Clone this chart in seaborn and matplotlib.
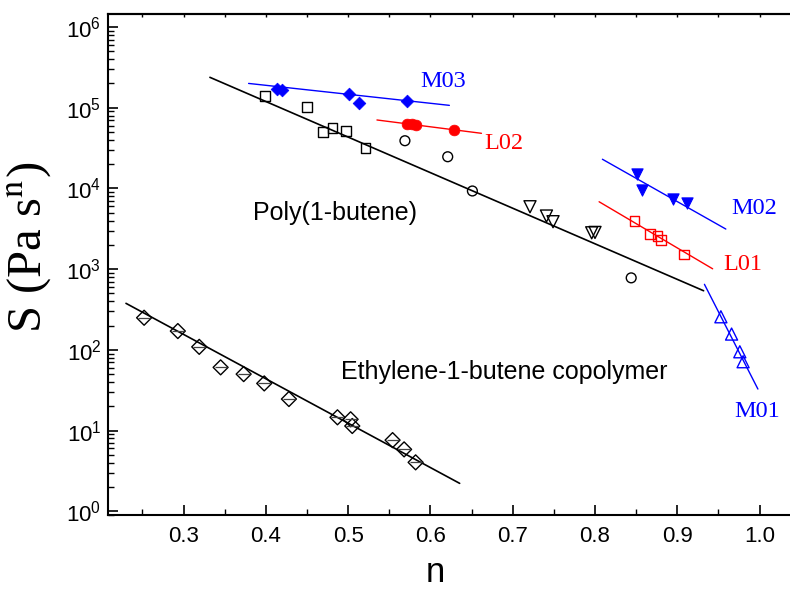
import numpy as np
import matplotlib
matplotlib.use('Agg')
import matplotlib.pyplot as plt
import seaborn as sns
from matplotlib.ticker import FixedLocator, MultipleLocator, LogLocator, NullFormatter, FixedFormatter

# ---------------- data ----------------
pb_sq_n = [0.399, 0.450, 0.469, 0.481, 0.497, 0.521]
pb_sq_S = [1.41e5, 1.02e5, 4.95e4, 5.65e4, 5.14e4, 3.17e4]
pb_ci_n = [0.569, 0.621, 0.651, 0.844]
pb_ci_S = [3.9e4, 2.47e4, 9.3e3, 7.8e2]
pb_tr_n = [0.721, 0.741, 0.749, 0.796, 0.800]
pb_tr_S = [5.93e3, 4.55e3, 3.87e3, 2.82e3, 2.85e3]
pb_fit_n = [0.332, 0.932]
pb_fit_S = [2.38e5, 5.4e2]

m03_n = [0.413, 0.419, 0.501, 0.513, 0.572]
m03_S = [1.71e5, 1.66e5, 1.47e5, 1.15e5, 1.22e5]
m03_fit_n = [0.379, 0.623]
m03_fit_S = [2.0e5, 1.07e5]

l02_n = [0.571, 0.577, 0.582, 0.629]
l02_S = [6.28e4, 6.3e4, 6.1e4, 5.33e4]
l02_fit_n = [0.535, 0.662]
l02_fit_S = [7.05e4, 4.82e4]

m02_n = [0.851, 0.857, 0.895, 0.912]
m02_S = [1.5e4, 9.55e3, 7.5e3, 6.65e3]
m02_fit_n = [0.809, 0.959]
m02_fit_S = [2.3e4, 3.14e3]

l01_n = [0.848, 0.867, 0.876, 0.880, 0.908]
l01_S = [3.91e3, 2.72e3, 2.57e3, 2.3e3, 1.52e3]
l01_fit_n = [0.805, 0.943]
l01_fit_S = [6.84e3, 1.01e3]

m01_n = [0.953, 0.966, 0.976, 0.980]
m01_S = [257, 157, 94.7, 71.3]
m01_fit_n = [0.933, 0.998]
m01_fit_S = [649, 32.7]

eb_n = [0.252, 0.293, 0.319, 0.345, 0.373, 0.398, 0.428, 0.487, 0.503, 0.505, 0.554, 0.568, 0.582]
eb_S = [250, 171, 109, 60.7, 50.1, 38.4, 24.6, 14.6, 13.8, 11.4, 7.62, 5.85, 4.04]
eb_fit_n = [0.230, 0.6355]
eb_fit_S = [377, 2.22]

x_ticks = [0.3, 0.4, 0.5, 0.6, 0.7, 0.8, 0.9, 1.0]
x_ticklabels = ['0.3', '0.4', '0.5', '0.6', '0.7', '0.8', '0.9', '1.0']

labels = ['M03', 'L02', 'M02', 'L01', 'M01']
label_n = [0.588, 0.666, 0.966, 0.956, 0.969]
label_S = [2.12e5, 3.62e4, 5.6e3, 1.135e3, 17.3]
label_colors = ['#0000ff', '#ff0000', '#0000ff', '#ff0000', '#0000ff']

# ---------------- plot ----------------
sns.set_style('ticks')
plt.rcParams['font.family'] = ['Liberation Sans', 'DejaVu Sans']
plt.rcParams['text.color'] = 'black'
plt.rcParams['axes.labelcolor'] = 'black'
plt.rcParams['xtick.color'] = 'black'
plt.rcParams['ytick.color'] = 'black'
plt.rcParams['axes.edgecolor'] = 'black'

fig = plt.figure(figsize=(7.9, 5.9), dpi=100)
ax = fig.add_axes([0.1371, 0.1266, 0.9282, 0.8497])
ax.set_yscale('log')

BLUE = '#0000ff'
RED = '#ff0000'

# fit lines
sns.lineplot(x=pb_fit_n, y=pb_fit_S, ax=ax, color='k', linewidth=1.2, sort=False, estimator=None)
sns.lineplot(x=eb_fit_n, y=eb_fit_S, ax=ax, color='k', linewidth=1.2, sort=False, estimator=None)
sns.lineplot(x=m03_fit_n, y=m03_fit_S, ax=ax, color=BLUE, linewidth=1.0, sort=False, estimator=None)
sns.lineplot(x=l02_fit_n, y=l02_fit_S, ax=ax, color=RED, linewidth=1.0, sort=False, estimator=None)
sns.lineplot(x=m02_fit_n, y=m02_fit_S, ax=ax, color=BLUE, linewidth=1.0, sort=False, estimator=None)
sns.lineplot(x=l01_fit_n, y=l01_fit_S, ax=ax, color=RED, linewidth=1.0, sort=False, estimator=None)
sns.lineplot(x=m01_fit_n, y=m01_fit_S, ax=ax, color=BLUE, linewidth=1.0, sort=False, estimator=None)

# poly(1-butene) points
sns.scatterplot(x=pb_sq_n, y=pb_sq_S, ax=ax, marker='s', s=50, facecolor='none', edgecolor='k', linewidth=1.0, zorder=3)
sns.scatterplot(x=pb_ci_n, y=pb_ci_S, ax=ax, marker='o', s=50, facecolor='none', edgecolor='k', linewidth=1.0, zorder=3)
sns.scatterplot(x=pb_tr_n, y=pb_tr_S, ax=ax, marker='v', s=75, facecolor='none', edgecolor='k', linewidth=1.0, zorder=3)

# samples
sns.scatterplot(x=m03_n, y=m03_S, ax=ax, marker='D', s=42, color=BLUE, edgecolor=BLUE, linewidth=0.5, zorder=3)
sns.scatterplot(x=l02_n, y=l02_S, ax=ax, marker='o', s=60, color=RED, edgecolor=RED, linewidth=0.5, zorder=3)
sns.scatterplot(x=m02_n, y=m02_S, ax=ax, marker='v', s=65, color=BLUE, edgecolor=BLUE, linewidth=0.8, zorder=3)
sns.scatterplot(x=l01_n, y=l01_S, ax=ax, marker='s', s=50, facecolor='none', edgecolor=RED, linewidth=1.0, zorder=3)
sns.scatterplot(x=m01_n, y=m01_S, ax=ax, marker='^', s=75, facecolor='none', edgecolor=BLUE, linewidth=1.0, zorder=3)

# ethylene-1-butene copolymer
sns.scatterplot(x=eb_n, y=eb_S, ax=ax, marker='D', s=58, facecolor='none', edgecolor='k', linewidth=1.0, zorder=3)
sns.scatterplot(x=eb_n, y=eb_S, ax=ax, marker='_', s=75, color='#444444', linewidth=0.9, zorder=3)

# axes
ax.set_xlim(0.2085, 1.0997)
ax.set_ylim(0.892, 1.45e6)
ax.xaxis.set_major_locator(FixedLocator(x_ticks))
ax.xaxis.set_major_formatter(FixedFormatter(x_ticklabels))
ax.xaxis.set_minor_locator(MultipleLocator(0.05))
ax.yaxis.set_major_locator(LogLocator(base=10, numticks=20))
ax.yaxis.set_minor_locator(LogLocator(base=10, subs=np.arange(2, 10), numticks=20))
ax.yaxis.set_minor_formatter(NullFormatter())

for side in ['left', 'bottom', 'top']:
    ax.spines[side].set_linewidth(1.5)
    ax.spines[side].set_color('k')
ax.spines['right'].set_visible(False)

ax.tick_params(axis='both', which='major', direction='in', length=7.5, width=1.2, color='k', labelcolor='k')
ax.tick_params(axis='both', which='minor', direction='in', length=4, width=1.0, color='k')
ax.tick_params(axis='x', which='major', labelsize=16, pad=8)
ax.tick_params(axis='y', which='major', labelsize=16, pad=5)

top = ax.secondary_xaxis('top')
top.xaxis.set_major_locator(FixedLocator(x_ticks))
top.xaxis.set_minor_locator(MultipleLocator(0.05))
top.tick_params(which='both', direction='in', length=2, width=1.0, labeltop=False, color='k')
top.spines['top'].set_linewidth(1.5)
top.spines['top'].set_color('k')

# texts
ax.text(0.384, 4.96e3, 'Poly(1-butene)', fontsize=18, ha='left', va='center', color='k')
ax.text(0.491, 53.6, 'Ethylene-1-butene copolymer', fontsize=18, ha='left', va='center', color='k')
for t, xn, yS, c in zip(labels, label_n, label_S, label_colors):
    ax.text(xn, yS, t, fontsize=17.5, color=c, ha='left', va='center', family='Liberation Serif')

ax.set_ylabel('S (Pa s$^{\\mathrm{n}}$)', fontsize=35, family='Liberation Serif', math_fontfamily='stix', color='k')
ax.yaxis.set_label_coords(-0.074, 0.535)
ax.set_xlabel('n', fontsize=25, va='baseline', color='k')
ax.xaxis.set_label_coords(0.4455, -0.133)

fig.savefig('out.png', dpi=100)
